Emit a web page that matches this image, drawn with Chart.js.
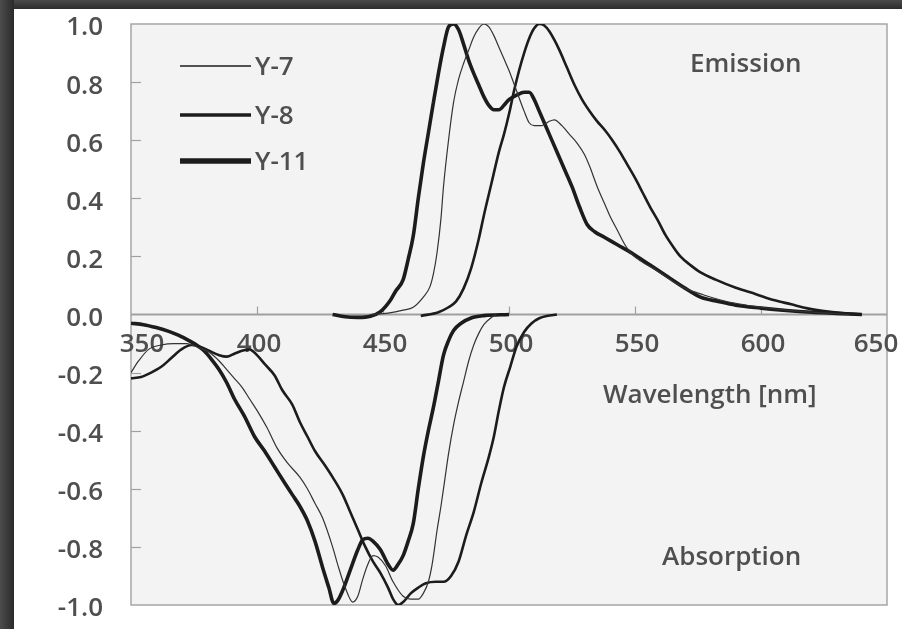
<!DOCTYPE html>
<html>
<head>
<meta charset="utf-8">
<script src="https://cdn.jsdelivr.net/npm/chart.js@4/dist/chart.umd.min.js"></script>
<style>
  html, body { margin: 0; padding: 0; width: 902px; height: 629px; overflow: hidden; background: #ffffff; }
  #frameTop { position: absolute; left: 0; top: 0; width: 902px; height: 9px;
    background: linear-gradient(to bottom, #4a4a4a, #2c2c2c); }
  #frameLeft { position: absolute; left: 0; top: 0; width: 14px; height: 629px;
    background: linear-gradient(to right, #4c4c4c, #2a2a2a); }
  #c { position: absolute; left: 0; top: 0; }
</style>
</head>
<body>
<div id="frameTop"></div>
<div id="frameLeft"></div>
<canvas id="c" width="902" height="629"></canvas>
<script>
// ---------- data ----------
const seriesNames = ['Y-7', 'Y-8', 'Y-11'];
const xTickValues = [350, 400, 450, 500, 550, 600, 650];
const yTickValues = [-1.0, -0.8, -0.6, -0.4, -0.2, 0.0, 0.2, 0.4, 0.6, 0.8, 1.0];

// Y-7 emission
const y7EmX = [445, 452, 458, 462, 466, 468.6, 470, 471.4, 473, 474, 476, 478, 480, 482, 484, 486, 488, 490, 492, 494, 496, 498, 500, 503, 506, 508, 510, 513, 516, 518, 521, 524, 527, 530, 532, 535, 538, 540, 543, 546, 549, 553, 558, 564, 570, 577, 584, 591, 600, 610, 620, 635];
const y7EmY = [0.0, 0.005, 0.015, 0.025, 0.06, 0.095, 0.14, 0.21, 0.33, 0.44, 0.6, 0.73, 0.81, 0.865, 0.91, 0.955, 0.985, 1.0, 0.99, 0.96, 0.92, 0.88, 0.84, 0.77, 0.7, 0.66, 0.65, 0.65, 0.665, 0.67, 0.65, 0.62, 0.59, 0.55, 0.51, 0.44, 0.38, 0.34, 0.29, 0.24, 0.205, 0.18, 0.155, 0.12, 0.09, 0.068, 0.05, 0.037, 0.025, 0.015, 0.008, 0.0];
// Y-8 emission
const y8EmX = [465, 472, 476, 479, 482, 485, 488, 490, 493, 496, 498, 500, 502, 504, 506, 508, 510, 512, 514, 516, 518, 520, 523, 526, 529, 532, 535, 538, 541, 544, 547, 550, 553, 556, 559, 562, 565, 568, 572, 576, 582, 590, 598, 605, 612, 618, 625, 632, 640];
const y8EmY = [-0.005, 0.008, 0.025, 0.045, 0.09, 0.16, 0.26, 0.34, 0.45, 0.56, 0.62, 0.69, 0.77, 0.84, 0.9, 0.95, 0.985, 1.0, 0.995, 0.975, 0.945, 0.91, 0.85, 0.79, 0.74, 0.7, 0.665, 0.635, 0.6, 0.56, 0.515, 0.47, 0.42, 0.37, 0.325, 0.275, 0.235, 0.2, 0.17, 0.145, 0.12, 0.092, 0.07, 0.05, 0.035, 0.022, 0.012, 0.005, 0.0];
// Y-11 emission
const y11EmX = [430, 435, 440, 445, 449, 453, 455, 458, 460, 462, 464, 466, 468, 470, 472, 474, 476, 478, 480, 482, 484, 486, 488, 490, 492, 494, 496, 498, 500, 503, 506, 508, 510, 512, 514, 516, 519, 522, 525, 528, 531, 534, 538, 543, 549, 556, 563, 570, 576, 583, 590, 600, 610, 620, 630, 640];
const y11EmY = [0.0, -0.008, -0.01, -0.006, 0.01, 0.05, 0.08, 0.12, 0.19, 0.27, 0.4, 0.52, 0.625, 0.73, 0.83, 0.92, 0.99, 1.0, 0.98, 0.93, 0.875, 0.83, 0.79, 0.75, 0.72, 0.705, 0.705, 0.72, 0.74, 0.755, 0.765, 0.765, 0.74, 0.7, 0.66, 0.62, 0.56, 0.5, 0.44, 0.37, 0.31, 0.285, 0.265, 0.24, 0.21, 0.17, 0.13, 0.09, 0.06, 0.045, 0.032, 0.022, 0.014, 0.008, 0.004, 0.0];

// Y-7 absorption
const y7AbX = [350, 353, 357, 362, 367, 372, 377, 381, 385, 388, 391, 394, 397, 400, 404, 408, 412, 417, 420, 423, 426, 430, 432, 435, 438, 440, 442, 444, 446, 448, 451, 454, 458, 461, 464, 466, 468, 469.5, 471.5, 473, 474.5, 476, 478, 480, 482, 484, 486, 488, 490, 493, 495];
const y7AbY = [-0.2, -0.16, -0.12, -0.105, -0.1, -0.1, -0.115, -0.13, -0.16, -0.19, -0.22, -0.25, -0.29, -0.33, -0.39, -0.46, -0.51, -0.56, -0.6, -0.65, -0.7, -0.8, -0.86, -0.94, -0.99, -0.97, -0.91, -0.86, -0.83, -0.835, -0.865, -0.92, -0.97, -0.98, -0.98, -0.96, -0.92, -0.86, -0.74, -0.66, -0.57, -0.48, -0.38, -0.3, -0.23, -0.16, -0.105, -0.065, -0.035, -0.01, 0.0];
// Y-8 absorption
const y8AbX = [350, 354, 358, 362, 366, 370, 374, 377, 381, 385, 388, 391, 394, 397, 400, 403, 407, 410, 414, 417, 420, 423, 427, 430, 434, 437, 440, 443, 446, 449, 452, 454, 456, 458, 461, 464, 467, 471, 474, 477, 480, 483, 486, 489, 492, 494, 496, 498, 500.5, 503, 506, 509, 512, 515, 519];
const y8AbY = [-0.22, -0.215, -0.2, -0.18, -0.15, -0.12, -0.105, -0.11, -0.125, -0.14, -0.145, -0.135, -0.125, -0.12, -0.14, -0.17, -0.21, -0.26, -0.31, -0.37, -0.42, -0.47, -0.52, -0.56, -0.62, -0.68, -0.74, -0.8, -0.85, -0.89, -0.94, -0.98, -1.0, -0.99, -0.96, -0.94, -0.925, -0.92, -0.92, -0.9, -0.85, -0.76, -0.68, -0.58, -0.49, -0.42, -0.33, -0.25, -0.18, -0.11, -0.06, -0.03, -0.013, -0.005, 0.0];
// Y-11 absorption
const y11AbX = [350, 355, 360, 365, 369, 373, 376, 379, 382, 385, 388, 391, 395, 399, 403, 407, 411, 414, 417, 420, 423, 426, 428.5, 430.5, 432, 434, 437, 440, 442, 444, 446, 449, 452, 454, 456, 458, 460, 462, 464, 466, 468, 470, 472, 474, 476, 478, 481, 485, 490, 500];
const y11AbY = [-0.03, -0.035, -0.045, -0.058, -0.072, -0.09, -0.105, -0.125, -0.155, -0.19, -0.235, -0.29, -0.35, -0.42, -0.47, -0.525, -0.58, -0.62, -0.66, -0.71, -0.78, -0.87, -0.94, -0.995, -0.985, -0.95, -0.88, -0.81, -0.775, -0.77, -0.78, -0.81, -0.86, -0.88, -0.86, -0.83, -0.78, -0.72, -0.6, -0.49, -0.4, -0.32, -0.23, -0.14, -0.09, -0.055, -0.03, -0.012, -0.004, 0.0];

// ---------- build ----------
const pts = (xs, ys) => xs.map((v, i) => ({ x: v, y: ys[i] }));
const lineColor = '#1c1c1c';
const widths = { 'Y-7': 1.2, 'Y-8': 2.6, 'Y-11': 3.6 };
const legendWidths = { 'Y-7': 1.3, 'Y-8': 3.5, 'Y-11': 5.5 };
const curves = [
  { name: 'Y-7', part: 'em', data: pts(y7EmX, y7EmY) },
  { name: 'Y-8', part: 'em', data: pts(y8EmX, y8EmY) },
  { name: 'Y-11', part: 'em', data: pts(y11EmX, y11EmY) },
  { name: 'Y-7', part: 'ab', data: pts(y7AbX, y7AbY) },
  { name: 'Y-8', part: 'ab', data: pts(y8AbX, y8AbY) },
  { name: 'Y-11', part: 'ab', data: pts(y11AbX, y11AbY) }
];
const datasets = curves.map(c => ({
  label: c.name,
  data: c.data,
  borderColor: c.name === 'Y-7' ? '#333333' : lineColor,
  borderWidth: widths[c.name],
  pointRadius: 0,
  fill: false,
  cubicInterpolationMode: 'monotone',
  legendEntry: c.part === 'em'
}));

const FONT = "'Open Sans', 'Noto Sans', sans-serif";
const TEXT = '#4f4f4f';

const decor = {
  id: 'decor',
  beforeDraw(chart) {
    const { ctx, chartArea: a } = chart;
    ctx.save();
    ctx.fillStyle = '#f3f3f3';
    ctx.fillRect(a.left, a.top, a.right - a.left, a.bottom - a.top);
    ctx.restore();
  },
  beforeDatasetsDraw(chart) {
    const { ctx, chartArea: a, scales: { x, y } } = chart;
    const zy = y.getPixelForValue(0);
    ctx.save();
    // border
    ctx.strokeStyle = '#a6a6a6';
    ctx.lineWidth = 1.5;
    ctx.strokeRect(a.left, a.top, a.right - a.left, a.bottom - a.top);
    // zero line
    ctx.strokeStyle = '#a0a0a0';
    ctx.lineWidth = 2;
    ctx.beginPath();
    ctx.moveTo(a.left, zy); ctx.lineTo(a.right, zy);
    ctx.stroke();
    // inner y ticks
    ctx.lineWidth = 1.2;
    yTickValues.forEach(v => {
      if (Math.abs(v) < 1e-9 || Math.abs(Math.abs(v) - 1) < 1e-9) return;
      const py = Math.round(y.getPixelForValue(v)) + 0.5;
      ctx.beginPath(); ctx.moveTo(a.left, py); ctx.lineTo(a.left + 10, py); ctx.stroke();
    });
    // x ticks (upward from zero line)
    xTickValues.forEach((v, i) => {
      if (i === 0 || i === xTickValues.length - 1) return;
      const px = Math.round(x.getPixelForValue(v)) + 0.5;
      ctx.beginPath(); ctx.moveTo(px, zy - 8); ctx.lineTo(px, zy); ctx.stroke();
    });
    // x tick labels below zero line
    ctx.fillStyle = TEXT;
    ctx.font = `600 26px ${FONT}`;
    ctx.textAlign = 'center';
    ctx.textBaseline = 'middle';
    xTickValues.forEach((v, i) => {
      let px = x.getPixelForValue(v) + 2;
      if (i === 0) px += 9;
      if (i === xTickValues.length - 1) px -= 13;
      ctx.fillText(String(v), px, zy + 30);
    });
    // annotations
    ctx.textAlign = 'left';
    ctx.fillText('Emission', 690, 65);
    ctx.fillText('Wavelength [nm]', 603, 396);
    ctx.fillText('Absorption', 662, 558);
    ctx.restore();
  },
  afterDatasetsDraw(chart) {
    const { ctx } = chart;
    ctx.save();
    const items = chart.data.datasets.filter(d => d.legendEntry);
    const ys = [66, 115, 161];
    items.forEach((d, i) => {
      ctx.strokeStyle = '#1c1c1c';
      ctx.lineWidth = legendWidths[d.label];
      ctx.beginPath(); ctx.moveTo(180, ys[i]); ctx.lineTo(251, ys[i]); ctx.stroke();
      ctx.fillStyle = TEXT;
      ctx.font = `600 26px ${FONT}`;
      ctx.textAlign = 'left';
      ctx.textBaseline = 'middle';
      ctx.fillText(d.label, 255, ys[i] + 2);
    });
    ctx.restore();
  }
};

new Chart(document.getElementById('c'), {
  type: 'line',
  data: { datasets },
  plugins: [decor],
  options: {
    responsive: false,
    devicePixelRatio: 1,
    animation: false,
    layout: { padding: { top: 24, right: 15, bottom: 24, left: 0 } },
    plugins: { legend: { display: false }, tooltip: { enabled: false } },
    scales: {
      x: {
        type: 'linear',
        position: { y: 0 },
        min: 350, max: 650,
        ticks: { display: false, stepSize: 50 },
        grid: { display: false },
        border: { display: false },
        afterFit: s => { s.height = 0; s.paddingLeft = 0; s.paddingRight = 0; }
      },
      y: {
        type: 'linear',
        min: -1, max: 1,
        afterBuildTicks: s => { s.ticks = yTickValues.map(v => ({ value: v })); },
        ticks: {
          padding: 28,
          labelOffset: 4,
          color: TEXT,
          font: { family: FONT, size: 26, weight: '600' },
          callback: v => (Math.abs(v) < 1e-9 ? 0 : v).toFixed(1)
        },
        grid: { display: false, drawTicks: false },
        border: { display: false },
        afterFit: s => { s.width = 131; s.paddingTop = 0; s.paddingBottom = 0; }
      }
    }
  }
});
</script>
</body>
</html>
